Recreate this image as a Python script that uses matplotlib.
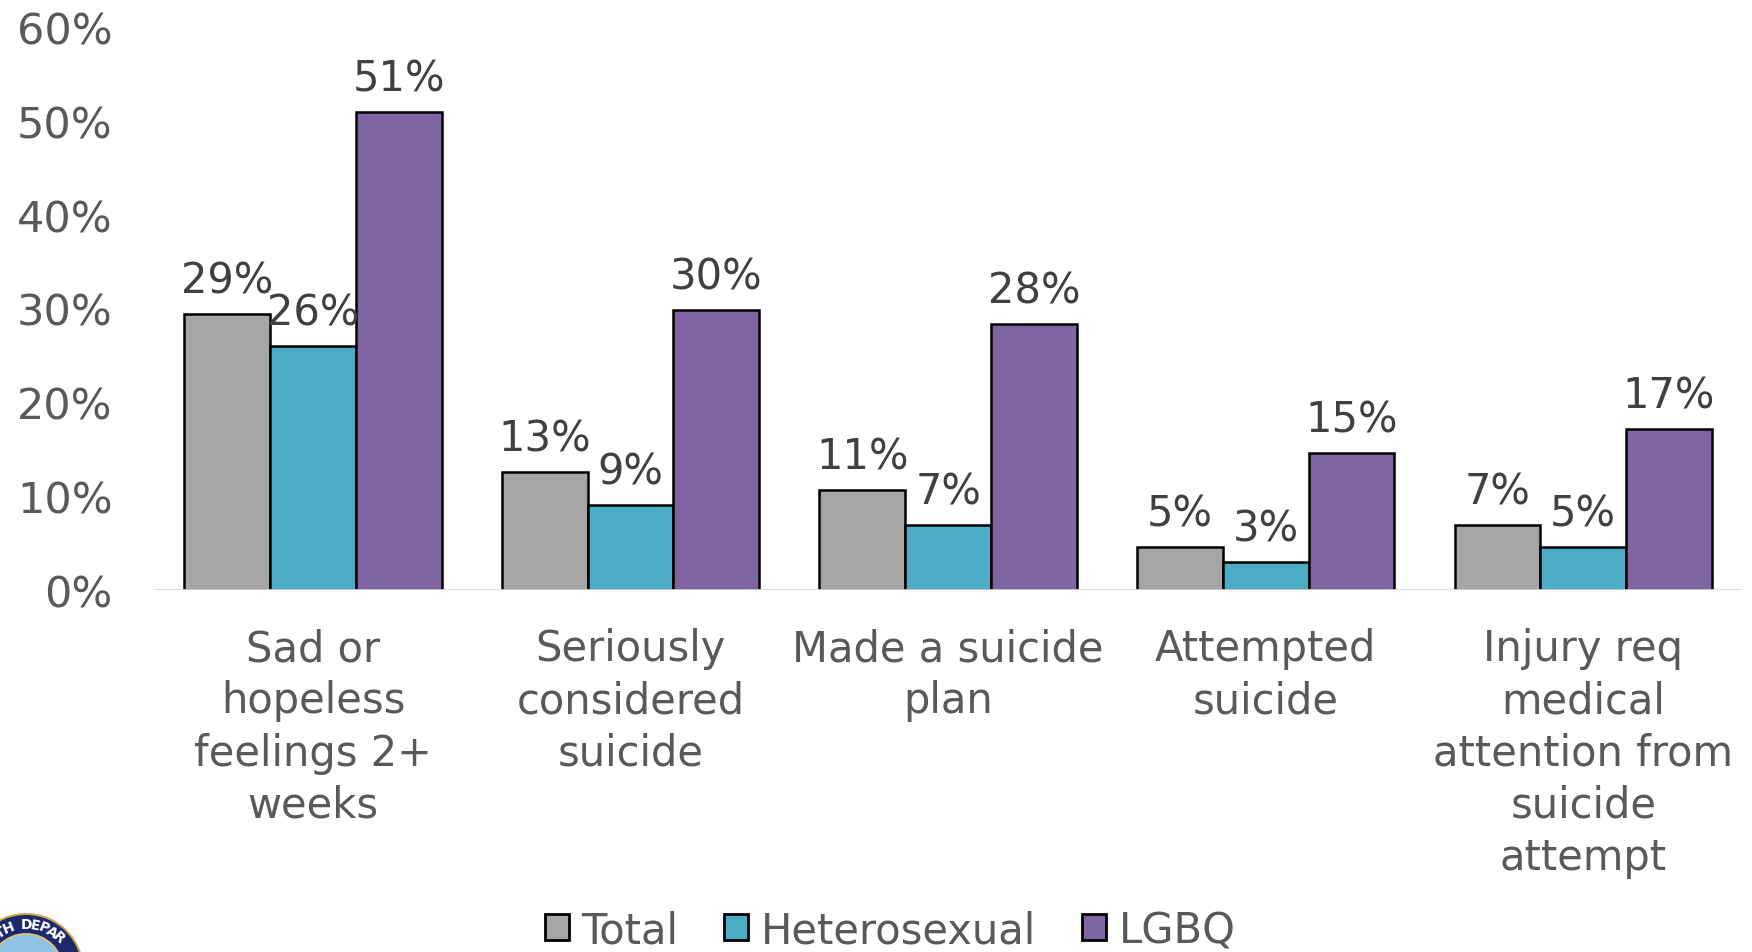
import numpy as np
import matplotlib.pyplot as plt
from matplotlib.patches import Patch, Circle

plt.rcParams['font.family'] = 'DejaVu Sans'
plt.rcParams['font.size'] = 30

categories = ['Sad or\nhopeless\nfeelings 2+\nweeks',
              'Seriously\nconsidered\nsuicide',
              'Made a suicide\nplan',
              'Attempted\nsuicide',
              'Injury req\nmedical\nattention from\nsuicide\nattempt']
series = ['Total', 'Heterosexual', 'LGBQ']
total = [29.4, 12.6, 10.6, 4.6, 6.9]
hetero = [26.0, 9.0, 6.9, 2.9, 4.6]
lgbq = [50.9, 29.8, 28.3, 14.6, 17.1]
yticks = [0, 10, 20, 30, 40, 50, 60]

colors = ['#a5a5a5', '#4bacc6', '#8064a2']
grey = '#595959'

fig = plt.figure(figsize=(17.52, 9.53), dpi=100)
ax = fig.add_axes([0.088, 0.3802, 0.9063, 0.5904])

x = np.arange(len(categories))
w = 0.27
for i, (vals, c, name) in enumerate(zip([total, hetero, lgbq], colors, series)):
    bars = ax.bar(x + (i - 1) * w, vals, w, color=c, edgecolor='black',
                  linewidth=1.8, zorder=2, label=name)
    ax.bar_label(bars, labels=['%d%%' % round(v) for v in vals],
                 padding=9, fontsize=30, color='#404040')

ax.axhline(0, color='#d9d9d9', lw=2, zorder=3)
ax.set_xlim(-0.5, len(categories) - 0.5)
ax.set_ylim(0, 60)
ax.set_yticks(yticks)
ax.set_yticklabels(['%d%%' % t for t in yticks])
ax.set_xticks(x)
ax.set_xticklabels(categories, linespacing=1.31)
ax.tick_params(axis='y', length=0, pad=30, colors=grey, labelsize=31)
ax.tick_params(axis='x', length=0, pad=27, colors=grey, labelsize=30)
for s in ax.spines.values():
    s.set_visible(False)

handles = [Patch(facecolor=c, edgecolor='black', linewidth=2) for c in colors]
fig.legend(handles, series, loc='center', bbox_to_anchor=(0.508, 0.023),
           ncol=3, frameon=False, fontsize=30, labelcolor=grey,
           handlelength=0.58, handleheight=0.58, handletextpad=0.3,
           columnspacing=1.1, borderpad=0)

# partial seal in the bottom-left corner
ov = fig.add_axes([0, 0, 1, 1], zorder=5)
ov.set_xlim(0, 1752)
ov.set_ylim(953, 0)
ov.axis('off')
cx, cy = 26, 972
for r, fc in [(58, '#c9a94f'), (56, '#1c2a6b'), (38, '#d8c27e'), (36, '#8ec3e6')]:
    ov.add_patch(Circle((cx, cy), r, facecolor=fc, edgecolor='none'))
seal_text = 'HEALTH DEPARTMENT'
for i, ch in enumerate(seal_text):
    th = np.radians((i - 7) * 11)
    px, py = cx + 47 * np.sin(th), cy - 47 * np.cos(th)
    if -1 < px < 1752 and py < 945:
        ov.text(px, py, ch, color='white', fontsize=10, fontweight='bold',
                ha='center', va='center', rotation=-np.degrees(th))

fig.savefig('out.png', dpi=100)
